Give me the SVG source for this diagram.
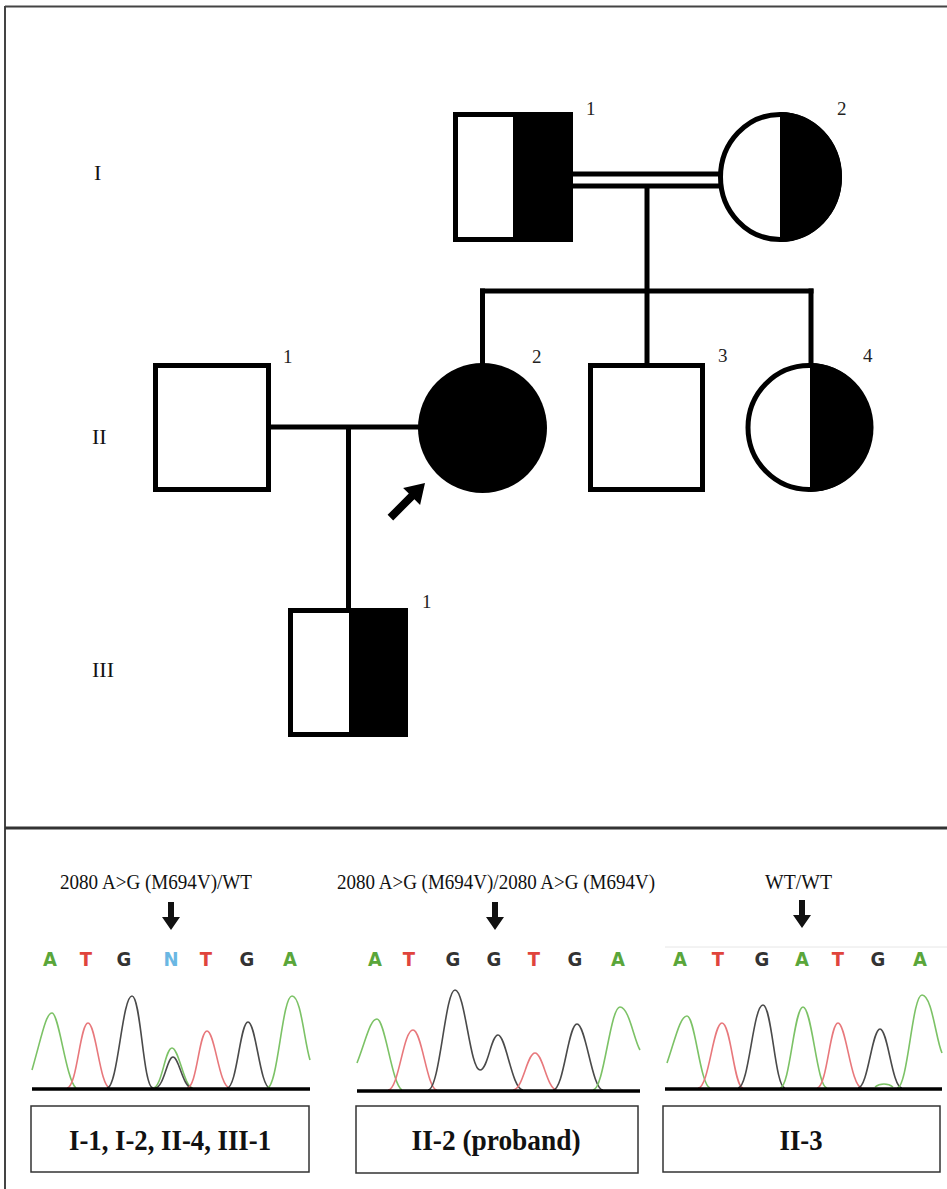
<svg xmlns="http://www.w3.org/2000/svg" width="947" height="1189" viewBox="0 0 947 1189">
<defs>
<style>
.ped{fill:#fff;stroke:#000;stroke-width:5}
.blk{fill:#000;stroke:none}
.con{fill:none;stroke:#000;stroke-width:5}
.num{font-family:"Liberation Serif","Times New Roman",serif;font-size:19px;fill:#222}
.gen{font-family:"Liberation Serif","Times New Roman",serif;font-size:22px;fill:#111}
.geno{font-family:"Liberation Serif","Times New Roman",serif;font-size:21px;fill:#111}
.seq{font-family:"DejaVu Sans Condensed","DejaVu Sans",sans-serif;font-stretch:condensed;font-weight:bold;font-size:20px;text-anchor:middle}
.box{fill:#fff;stroke:#333;stroke-width:1.5}
.lab{font-family:"Liberation Serif","Times New Roman",serif;font-weight:bold;font-size:30px;fill:#111;text-anchor:middle}
.g{fill:none;stroke:#7cc266;stroke-width:1.6}
.r{fill:none;stroke:#e8787c;stroke-width:1.6}
.k{fill:none;stroke:#4a4a4a;stroke-width:1.6}
.base{stroke:#000;stroke-width:3.5}
.darr{fill:#111}
</style>
</defs>
<rect width="947" height="1189" fill="#fff"/>
<!-- frame -->
<g id="frame" fill="none" stroke="#444">
<line x1="5" y1="6.5" x2="947" y2="6.5" stroke-width="2"/>
<line x1="5" y1="6" x2="5" y2="1189" stroke-width="2"/>
<line x1="5" y1="828" x2="947" y2="828" stroke-width="3" stroke="#333"/>
</g>
<!-- generation labels -->
<g id="generations">
<text class="gen" x="94" y="180">I</text>
<text class="gen" x="92" y="444">II</text>
<text class="gen" x="92" y="677">III</text>
</g>
<!-- connectors -->
<g id="connectors">
<line class="con" x1="572" y1="174" x2="720" y2="174"/>
<line class="con" x1="572" y1="186" x2="720" y2="186"/>
<line class="con" x1="647" y1="186" x2="647" y2="364"/>
<line class="con" x1="480" y1="291" x2="813.5" y2="291"/>
<line class="con" x1="482.5" y1="288.5" x2="482.5" y2="364"/>
<line class="con" x1="811" y1="288.5" x2="811" y2="364"/>
<line class="con" x1="270" y1="427" x2="420" y2="427"/>
<line class="con" x1="348.5" y1="427" x2="348.5" y2="610"/>
</g>
<!-- Generation I -->
<g id="I-1">
<rect class="ped" x="455.5" y="114.5" width="115" height="125"/>
<rect class="blk" x="513" y="112" width="60" height="130"/>
<text class="num" x="586" y="115">1</text>
</g>
<g id="I-2">
<ellipse class="ped" cx="780" cy="177" rx="59.5" ry="62.5"/>
<path class="blk" d="M780,112 A62,65 0 0 1 780,242 Z"/>
<text class="num" x="837" y="115">2</text>
</g>
<!-- Generation II -->
<g id="II-1">
<rect class="ped" x="155.5" y="365.5" width="113" height="124"/>
<text class="num" x="283" y="363">1</text>
</g>
<g id="II-2">
<ellipse cx="482.5" cy="428" rx="64.5" ry="65" fill="#000"/>
<text class="num" x="532" y="363">2</text>
<polygon fill="#000" points="387.6,514.8 408.8,493.6 403.1,487.9 425,483 420.1,504.9 414.4,499.2 393.2,520.4"/>
</g>
<g id="II-3">
<rect class="ped" x="590.5" y="365.5" width="112" height="124"/>
<text class="num" x="718" y="362">3</text>
</g>
<g id="II-4">
<ellipse class="ped" cx="809" cy="427.5" rx="61" ry="62"/>
<path class="blk" d="M810,363 A63.5,64.5 0 0 1 810,492 Z"/>
<text class="num" x="863" y="362">4</text>
</g>
<!-- Generation III -->
<g id="III-1">
<rect class="ped" x="290.5" y="610.5" width="115" height="124"/>
<rect class="blk" x="349" y="608" width="59" height="129"/>
<text class="num" x="422" y="608">1</text>
</g>
<!-- Sequencing panel 1 -->
<g id="seq-1">
<text class="geno" x="60" y="889" textLength="192" lengthAdjust="spacingAndGlyphs">2080 A&gt;G (M694V)/WT</text>
<path class="darr" d="M168,902 h6 v15 h6 l-9,13 l-9,-13 h6 z"/>
<text class="seq" x="50" y="966" fill="#5aa63a">A</text>
<text class="seq" x="86" y="966" fill="#e0443c">T</text>
<text class="seq" x="124" y="966" fill="#333">G</text>
<text class="seq" x="171" y="966" fill="#6ab7e3">N</text>
<text class="seq" x="206" y="966" fill="#e0443c">T</text>
<text class="seq" x="247" y="966" fill="#333">G</text>
<text class="seq" x="290" y="966" fill="#5aa63a">A</text>
<path class="g" d="M32,1070 C42,1035 46,1013 52,1013 C59,1013 66,1080 76,1088"/>
<path class="r" d="M67,1088 C77,1088 80,1023 88,1023 C96,1023 100,1088 110,1088"/>
<path class="k" d="M107,1088 C118,1088 122,996 132,996 C141,996 143,1088 153,1088"/>
<path class="g" d="M153,1088 C162,1088 165,1048 172,1048 C179,1048 184,1088 193,1088"/>
<path class="k" d="M155,1088 C164,1088 167,1057 173,1057 C179,1057 183,1088 192,1088"/>
<path class="r" d="M187,1088 C197,1088 199,1031 207,1031 C215,1031 219,1088 230,1088"/>
<path class="k" d="M227,1088 C237,1088 240,1022 248,1022 C256,1022 260,1088 270,1088"/>
<path class="g" d="M267,1088 C278,1088 282,996 292,996 C301,996 304,1040 310,1060"/>
<line class="base" x1="32" y1="1089" x2="310" y2="1089"/>
<rect class="box" x="31" y="1106" width="278" height="66"/>
<text class="lab" x="170" y="1150" textLength="202" lengthAdjust="spacingAndGlyphs">I-1, I-2, II-4, III-1</text>
</g>
<!-- Sequencing panel 2 -->
<g id="seq-2">
<text class="geno" x="337" y="889" textLength="318" lengthAdjust="spacingAndGlyphs">2080 A&gt;G (M694V)/2080 A&gt;G (M694V)</text>
<path class="darr" d="M492,902 h6 v15 h6 l-9,13 l-9,-13 h6 z"/>
<text class="seq" x="375" y="966" fill="#5aa63a">A</text>
<text class="seq" x="409" y="966" fill="#e0443c">T</text>
<text class="seq" x="453" y="966" fill="#333">G</text>
<text class="seq" x="494" y="966" fill="#333">G</text>
<text class="seq" x="534" y="966" fill="#e0443c">T</text>
<text class="seq" x="575" y="966" fill="#333">G</text>
<text class="seq" x="618" y="966" fill="#5aa63a">A</text>
<path class="g" d="M357,1063 C366,1040 370,1019 377,1019 C385,1019 392,1085 402,1090"/>
<path class="r" d="M388,1090 C399,1090 403,1030 413,1030 C422,1030 427,1090 437,1090"/>
<path class="k" d="M428,1090 C440,1090 445,990 455,990 C465,990 470,1070 480,1070 C488,1070 491,1035 498,1035 C506,1035 512,1090 523,1090"/>
<path class="r" d="M513,1090 C523,1090 527,1053 535,1053 C543,1053 547,1090 557,1090"/>
<path class="k" d="M553,1090 C564,1090 568,1024 577,1024 C586,1024 592,1090 603,1090"/>
<path class="g" d="M593,1090 C604,1090 610,1007 620,1007 C629,1007 634,1040 640,1050"/>
<line class="base" x1="357" y1="1091" x2="640" y2="1091"/>
<rect class="box" x="356" y="1106" width="282" height="67"/>
<text class="lab" x="496" y="1150" textLength="169" lengthAdjust="spacingAndGlyphs">II-2 (proband)</text>
</g>
<!-- Sequencing panel 3 -->
<g id="seq-3">
<text class="geno" x="765" y="889" textLength="67" lengthAdjust="spacingAndGlyphs">WT/WT</text>
<path class="darr" d="M799,900 h6 v15 h6 l-9,13 l-9,-13 h6 z"/>
<line x1="665" y1="947" x2="947" y2="947" stroke="#e6e6e6" stroke-width="1"/>
<text class="seq" x="680" y="966" fill="#5aa63a">A</text>
<text class="seq" x="718" y="966" fill="#e0443c">T</text>
<text class="seq" x="762" y="966" fill="#333">G</text>
<text class="seq" x="802" y="966" fill="#5aa63a">A</text>
<text class="seq" x="838" y="966" fill="#e0443c">T</text>
<text class="seq" x="878" y="966" fill="#333">G</text>
<text class="seq" x="920" y="966" fill="#5aa63a">A</text>
<path class="g" d="M667,1063 C675,1040 680,1016 687,1016 C695,1016 700,1085 710,1088"/>
<path class="r" d="M698,1088 C709,1088 713,1023 722,1023 C731,1023 734,1088 743,1088"/>
<path class="k" d="M738,1088 C749,1088 753,1005 763,1005 C772,1005 775,1088 785,1088"/>
<path class="g" d="M780,1088 C790,1088 794,1007 803,1007 C812,1007 817,1088 827,1088"/>
<path class="r" d="M817,1088 C827,1088 830,1023 838,1023 C846,1023 851,1088 862,1088"/>
<path class="k" d="M858,1088 C868,1088 872,1029 880,1029 C888,1029 892,1088 902,1088"/>
<path class="g" d="M897,1088 C908,1088 912,995 922,995 C932,995 936,1040 942,1053"/>
<path class="g" d="M875,1087 C880,1083 888,1083 893,1087" stroke-width="2.5"/>
<line class="base" x1="665" y1="1089" x2="942" y2="1089"/>
<rect class="box" x="663" y="1106" width="277" height="66"/>
<text class="lab" x="801" y="1150" textLength="43" lengthAdjust="spacingAndGlyphs">II-3</text>
</g>
</svg>
